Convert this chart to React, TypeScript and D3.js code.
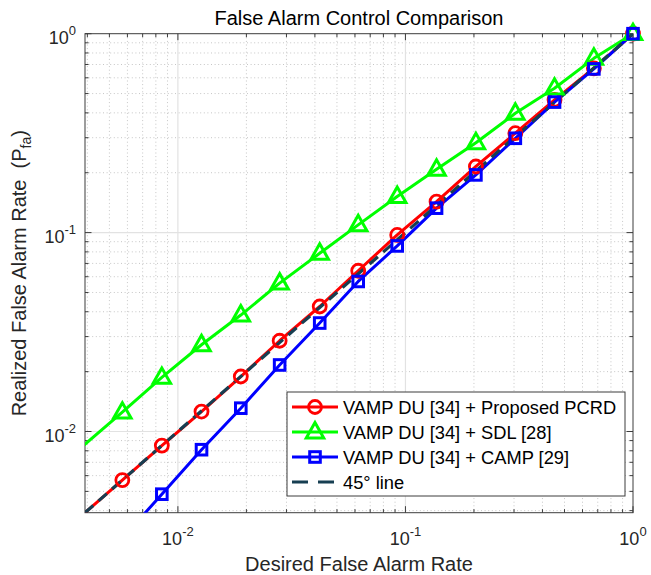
import React from "react";
import * as d3 from "d3";

// ---- data ----
const desiredRate = [0.00385, 0.0057, 0.0085, 0.0127, 0.0189, 0.028, 0.042, 0.062, 0.092, 0.137, 0.204, 0.304, 0.452, 0.673, 1];
const pcrdRate = [0.00385, 0.0057, 0.0085, 0.0126, 0.0189, 0.0286, 0.0425, 0.0643, 0.0973, 0.143, 0.215, 0.316, 0.465, 0.67, 1];
const sdlRate = [0.0085, 0.0125, 0.0187, 0.0273, 0.0385, 0.0557, 0.0787, 0.1094, 0.1518, 0.208, 0.283, 0.398, 0.532, 0.752, 1];
const campRate = [0.0017, 0.0029, 0.00484, 0.0081, 0.0131, 0.0216, 0.0351, 0.0568, 0.0857, 0.1327, 0.195, 0.298, 0.453, 0.665, 1];
const diagX = [1 / 256, 1];
const diagY = [1 / 256, 1];

const seriesNames = [
  "VAMP DU [34] + Proposed PCRD",
  "VAMP DU [34] + SDL [28]",
  "VAMP DU [34] + CAMP [29]",
  "45° line",
];
const majorTicks = [0.01, 0.1, 1];
const majorTickExp = ["-2", "-1", "0"];
const axisDomain = [1 / 256, 1];

const W = 651;
const H = 575;
const L = 85, R = 633, T = 33.7, B = 512.7;

const FONT = "'Liberation Sans', Arial, Helvetica, sans-serif";

export default function App() {
  const x = d3.scaleLog().domain(axisDomain).range([L, R]);
  const y = d3.scaleLog().domain(axisDomain).range([B, T]);

  const minor: number[] = [];
  for (let e = -3; e <= -1; e++) {
    for (let m = 2; m <= 9; m++) {
      const v = m * Math.pow(10, e);
      if (v > axisDomain[0] && v < axisDomain[1]) minor.push(v);
    }
  }

  const line = d3
    .line<[number, number]>()
    .x((d) => x(d[0]))
    .y((d) => y(d[1]));

  const zip = (a: number[], b: number[]) => a.map((v, i) => [v, b[i]] as [number, number]);
  const inside = (d: [number, number]) =>
    d[0] >= axisDomain[0] && d[0] <= axisDomain[1] && d[1] >= axisDomain[0] && d[1] <= axisDomain[1];

  const red = zip(desiredRate, pcrdRate);
  const green = zip(desiredRate, sdlRate);
  const blue = zip(desiredRate, campRate);
  const diag = zip(diagX, diagY);

  const RED = "#ff0000";
  const GREEN = "#00ff00";
  const BLUE = "#0000ff";
  const DIAG = "#173f52";
  const LW = 3;

  const circle = (cx: number, cy: number, k: any) => (
    <circle key={k} cx={cx} cy={cy} r={6.5} fill="none" stroke={RED} strokeWidth={2.8} />
  );
  const tri = (cx: number, cy: number, k: any) => {
    const s = 9.5;
    const pts = [
      [cx, cy - s],
      [cx - s * 0.92, cy + s * 0.62],
      [cx + s * 0.92, cy + s * 0.62],
    ]
      .map((p) => p.join(","))
      .join(" ");
    return <polygon key={k} points={pts} fill="none" stroke={GREEN} strokeWidth={3} strokeLinejoin="miter" />;
  };
  const sq = (cx: number, cy: number, k: any) => (
    <rect key={k} x={cx - 5.3} y={cy - 5.3} width={10.6} height={10.6} fill="none" stroke={BLUE} strokeWidth={3} />
  );

  const tickLabel = (exp: string) => (
    <>
      <tspan>10</tspan>
      <tspan fontSize={13} dy={-9}>
        {exp}
      </tspan>
    </>
  );

  const axisColor = "#3c3c3c";

  // legend
  const legX = 287, legY = 392, legW = 338, legH = 104;
  const rowY = [407, 432, 457, 482];
  const sampleX0 = 292, sampleX1 = 338, sampleMid = 315;

  return (
    <svg
      width={W}
      height={H}
      style={{ position: "absolute", left: 0, top: 0, background: "#fff" }}
      fontFamily={FONT}
    >
      <defs>
        <clipPath id="plotClip">
          <rect x={L} y={T} width={R - L} height={B - T} />
        </clipPath>
      </defs>
      <rect x={0} y={0} width={W} height={H} fill="#fff" />

      {/* minor grid */}
      <g stroke="#c6c6c6" strokeWidth={1} strokeDasharray="1,2.6">
        {minor.map((v, i) => (
          <line key={"mx" + i} x1={x(v)} x2={x(v)} y1={T} y2={B} />
        ))}
        {minor.map((v, i) => (
          <line key={"my" + i} x1={L} x2={R} y1={y(v)} y2={y(v)} />
        ))}
      </g>
      {/* major grid */}
      <g stroke="#e2e2e2" strokeWidth={1.2}>
        {majorTicks.slice(0, 2).map((v, i) => (
          <line key={"Mx" + i} x1={x(v)} x2={x(v)} y1={T} y2={B} />
        ))}
        {majorTicks.slice(0, 2).map((v, i) => (
          <line key={"My" + i} x1={L} x2={R} y1={y(v)} y2={y(v)} />
        ))}
      </g>

      {/* axes box and ticks */}
      <g stroke={axisColor} strokeWidth={1}>
        <rect x={L} y={T} width={R - L} height={B - T} fill="none" />
        {majorTicks.map((v, i) => (
          <g key={"t" + i}>
            <line x1={x(v)} x2={x(v)} y1={B} y2={B - 6.5} />
            <line x1={x(v)} x2={x(v)} y1={T} y2={T + 6.5} />
            <line x1={L} x2={L + 6.5} y1={y(v)} y2={y(v)} />
            <line x1={R} x2={R - 6.5} y1={y(v)} y2={y(v)} />
          </g>
        ))}
        {minor.map((v, i) => (
          <g key={"mt" + i}>
            <line x1={x(v)} x2={x(v)} y1={B} y2={B - 3.5} />
            <line x1={x(v)} x2={x(v)} y1={T} y2={T + 3.5} />
            <line x1={L} x2={L + 3.5} y1={y(v)} y2={y(v)} />
            <line x1={R} x2={R - 3.5} y1={y(v)} y2={y(v)} />
          </g>
        ))}
      </g>

      {/* tick labels */}
      <g fill="#262626" fontSize={18}>
        {majorTicks.map((v, i) => (
          <text key={"xl" + i} x={x(v)} y={545} textAnchor="middle">
            {tickLabel(majorTickExp[i])}
          </text>
        ))}
        {majorTicks.map((v, i) => (
          <text key={"yl" + i} x={76} y={y(v) + 10} textAnchor="end">
            {tickLabel(majorTickExp[i])}
          </text>
        ))}
      </g>

      {/* series lines */}
      <g clipPath="url(#plotClip)" fill="none" strokeLinejoin="round">
        <path d={line(red) || ""} stroke={RED} strokeWidth={LW} />
        <path d={line(green) || ""} stroke={GREEN} strokeWidth={LW} />
        <path d={line(blue) || ""} stroke={BLUE} strokeWidth={LW} />
        <path d={line(diag) || ""} stroke={DIAG} strokeWidth={3.2} strokeDasharray="11,7" />
      </g>
      {/* markers */}
      <g>
        {red.filter(inside).map((d, i) => circle(x(d[0]), y(d[1]), "c" + i))}
        {green.filter(inside).map((d, i) => tri(x(d[0]), y(d[1]), "g" + i))}
        {blue.filter(inside).map((d, i) => sq(x(d[0]), y(d[1]), "s" + i))}
      </g>

      {/* title and axis labels */}
      <text x={(L + R) / 2} y={25} textAnchor="middle" fontSize={20} fill="#000">
        False Alarm Control Comparison
      </text>
      <text x={(L + R) / 2} y={571} textAnchor="middle" fontSize={20} fill="#262626">
        Desired False Alarm Rate
      </text>
      <text
        transform={`translate(26,${(T + B) / 2}) rotate(-90)`}
        textAnchor="middle"
        fontSize={20}
        fill="#262626"
        xmlSpace="preserve"
      >
        <tspan>{"Realized False Alarm Rate  (P"}</tspan>
        <tspan fontSize={14} dy={5}>
          fa
        </tspan>
        <tspan dy={-5}>)</tspan>
      </text>

      {/* legend */}
      <rect x={legX} y={legY} width={legW} height={legH} fill="#fff" stroke={axisColor} strokeWidth={1} />
      <g fontSize={18.3} fill="#000">
        <line x1={sampleX0} x2={sampleX1} y1={rowY[0]} y2={rowY[0]} stroke={RED} strokeWidth={LW} />
        {circle(sampleMid, rowY[0], "lc")}
        <line x1={sampleX0} x2={sampleX1} y1={rowY[1]} y2={rowY[1]} stroke={GREEN} strokeWidth={LW} />
        {tri(sampleMid, rowY[1], "lg")}
        <line x1={sampleX0} x2={sampleX1} y1={rowY[2]} y2={rowY[2]} stroke={BLUE} strokeWidth={LW} />
        {sq(sampleMid, rowY[2], "ls")}
        <line
          x1={sampleX0}
          x2={sampleX1}
          y1={rowY[3]}
          y2={rowY[3]}
          stroke={DIAG}
          strokeWidth={3.2}
          strokeDasharray="16,10"
        />
        {seriesNames.map((n, i) => (
          <text key={"lt" + i} x={343} y={rowY[i] + 6.5}>
            {n}
          </text>
        ))}
      </g>
    </svg>
  );
}
